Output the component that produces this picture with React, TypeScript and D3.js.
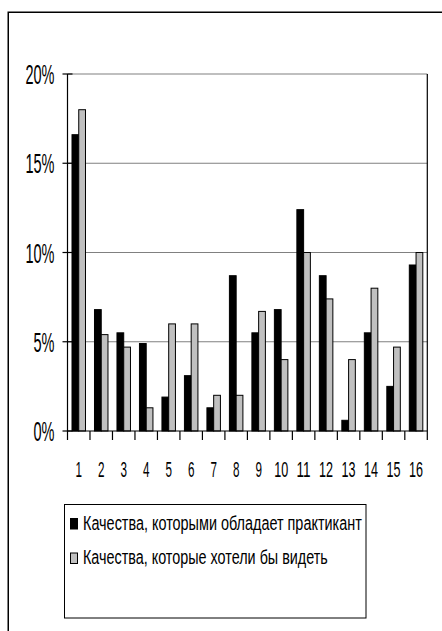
import React, { useLayoutEffect, useRef, useState } from "react";
import * as d3 from "d3";

const categories = ["1","2","3","4","5","6","7","8","9","10","11","12","13","14","15","16"];
const seriesNames = [
  "Качества, которыми обладает практикант",
  "Качества, которые хотели бы видеть",
];
const possessed = [16.6, 6.8, 5.5, 4.9, 1.9, 3.1, 1.3, 8.7, 5.5, 6.8, 12.4, 8.7, 0.6, 5.5, 2.5, 9.3];
const desired = [18.0, 5.4, 4.7, 1.3, 6.0, 6.0, 2.0, 2.0, 6.7, 4.0, 10.0, 7.4, 4.0, 8.0, 4.7, 10.0];
const yTicks = [0, 5, 10, 15, 20];
const seriesColors = ["#000000", "#c0c0c0"];

const font = "'Liberation Sans', Arial, sans-serif";

function FitText(props: { x: number; y: number; width: number; size: number; anchor?: string; children: string }) {
  const ref = useRef<SVGTextElement>(null);
  const [sx, setSx] = useState(1);
  useLayoutEffect(() => {
    if (ref.current) {
      const w = ref.current.getComputedTextLength();
      if (w > 0) setSx(props.width / w);
    }
  }, [props.width, props.children]);
  return (
    <text ref={ref} transform={`translate(${props.x},${props.y}) scale(${sx},1)`} textAnchor={props.anchor || "start"}
      fontFamily={font} fontSize={props.size}>{props.children}</text>
  );
}

export default function App() {
  const W = 442, H = 631;
  const left = 67.5, right = 427.3, top = 74, bottom = 431;
  const x = d3.scaleBand<string>().domain(categories).range([left, right]).paddingInner(0.4).paddingOuter(0.2);
  const x1 = d3.scaleBand<string>().domain(["a", "b"]).range([0, x.bandwidth()]);
  const y = d3.scaleLinear().domain([0, 20]).range([bottom, top]);
  const step = x.step();
  const series = [possessed, desired];
  const boundaries = d3.range(categories.length + 1).map((i) => left + i * step);

  return (
    <svg width={W} height={H} style={{ position: "absolute", left: 0, top: 0, background: "#fff" }}>
      <rect x={0} y={0} width={W} height={H} fill="#fff" />
      <rect x={8.25} y={12.25} width={600} height={800} fill="none" stroke="#000" strokeWidth={1.5} />
      {yTicks.filter((t) => t > 0).map((t) => (
        <line key={t} x1={left} x2={right} y1={y(t)} y2={y(t)} stroke="#808080" strokeWidth={1.2} />
      ))}
      {series.map((vals, si) =>
        vals.map((v, i) => {
          const bx = (x(categories[i]) as number) + (x1(si === 0 ? "a" : "b") as number);
          return (
            <rect key={si + "-" + i} x={bx} y={y(v)} width={x1.bandwidth()} height={y(0) - y(v)}
              fill={seriesColors[si]} stroke="#000" strokeWidth={1} />
          );
        })
      )}
      <line x1={left} x2={left} y1={top} y2={bottom} stroke="#000" strokeWidth={1.2} />
      <line x1={right} x2={right} y1={top} y2={bottom} stroke="#000" strokeWidth={1.2} />
      <line x1={left} x2={right} y1={bottom} y2={bottom} stroke="#000" strokeWidth={1.2} />
      {yTicks.map((t) => (
        <g key={t}>
          <line x1={left - 5} x2={left + 5} y1={y(t)} y2={y(t)} stroke="#000" strokeWidth={1.2} />
          <FitText x={54.5} y={y(t) + 10} anchor="end" size={28} width={t >= 10 ? 29 : 21}>{t + "%"}</FitText>
        </g>
      ))}
      {boundaries.map((bx, i) => (
        <line key={i} x1={bx} x2={bx} y1={bottom} y2={bottom + 9} stroke="#000" strokeWidth={1.2} />
      ))}
      {categories.map((c) => (
        <FitText key={c} x={(x(c) as number) + x.bandwidth() / 2} y={477} anchor="middle"
          size={22} width={c.length > 1 ? 14 : 6.5}>{c}</FitText>
      ))}
      <rect x={64.5} y={504.5} width={301.5} height={113.5} fill="#fff" stroke="#000" strokeWidth={1} />
      <rect x={70.5} y={518.5} width={7} height={10.5} fill={seriesColors[0]} stroke="#000" strokeWidth={1} />
      <rect x={70.5} y={553} width={7} height={10.5} fill={seriesColors[1]} stroke="#000" strokeWidth={1} />
      <FitText x={83} y={530} size={21} width={279}>{seriesNames[0]}</FitText>
      <FitText x={83} y={564} size={21} width={245}>{seriesNames[1]}</FitText>
    </svg>
  );
}
